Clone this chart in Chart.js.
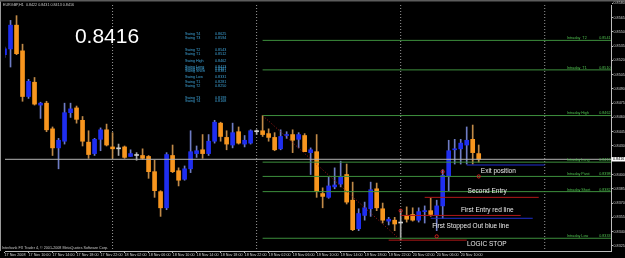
<!DOCTYPE html>
<html>
<head>
<meta charset="utf-8">
<script src="https://cdn.jsdelivr.net/npm/chart.js@4.4.1/dist/chart.umd.min.js"></script>
<style>
  html, body { margin: 0; padding: 0; background: #000; }
</style>
</head>
<body>
<canvas id="chartEurgbp" width="625" height="258"></canvas>
<script>
// EURGBP H1, bars counted in hours from 17 Nov 2008 00:00
var hours = [6,7,8,9,10,11,12,13,14,15,16,17,18,19,20,21,22,23,24,25,26,27,28,29,30,31,32,33,34,35,36,37,38,39,40,41,42,43,44,45,
             46,47,48,49,50,51,52,53,54,55,56,57,58,59,60,61,62,63,64,65,66,67,68,69,70,71,72,73,74,75,76,77,78,79,80,81,82,83,84,85];
var opens = [0.8526,0.8532,0.8557,0.8530,0.8482,0.8497,0.8473,0.8475,0.8448,0.8428,0.8435,0.8465,0.8470,0.8457,0.8434,0.8422,0.8437,0.8447,0.8429,0.8427,
             0.8429,0.8419,0.8420,0.8420,0.8419,0.8403,0.8382,0.8365,0.8420,0.8404,0.8395,0.8406,0.8422,0.8426,0.8422,0.8435,0.8454,0.8439,0.8431,0.8445,
             0.8432,0.8433,0.8445,0.8446,0.8443,0.8439,0.8427,0.8441,0.8442,0.8437,0.8441,0.8423,0.8424,0.8380,0.8376,0.8387,0.8390,0.8400,0.8373,0.8343,
             0.8357,0.8364,0.8385,0.8364,0.8351,0.8352,0.8349,0.8357,0.8358,0.8352,0.8361,0.8362,0.8357,0.8367,0.8398,0.8426,0.8427,0.8431,0.8437,0.8422];
var highs = [0.8534,0.8562,0.8567,0.8537,0.8500,0.8502,0.8476,0.8477,0.8450,0.8438,0.8475,0.8475,0.8472,0.8461,0.8446,0.8438,0.8449,0.8453,0.8444,0.8432,
             0.8430,0.8426,0.8423,0.8427,0.8420,0.8415,0.8383,0.8423,0.8431,0.8407,0.8409,0.8446,0.8430,0.8442,0.8442,0.8457,0.8455,0.8446,0.8454,0.8450,
             0.8441,0.8447,0.8447,0.8462,0.8448,0.8444,0.8447,0.8445,0.8447,0.8444,0.8443,0.8428,0.8442,0.8386,0.8397,0.8407,0.8414,0.8411,0.8392,0.8364,
             0.8371,0.8392,0.8391,0.8370,0.8355,0.8355,0.8362,0.8366,0.8365,0.8365,0.8367,0.8375,0.8373,0.8405,0.8436,0.8437,0.8437,0.8450,0.8452,0.8431];
var lows = [0.8523,0.8513,0.8526,0.8477,0.8480,0.8473,0.8459,0.8445,0.8420,0.8406,0.8432,0.8460,0.8454,0.8430,0.8417,0.8420,0.8425,0.8430,0.8417,0.8420,
            0.8417,0.8419,0.8415,0.8416,0.8396,0.8376,0.8356,0.8363,0.8402,0.8388,0.8394,0.8402,0.8418,0.8417,0.8420,0.8433,0.8435,0.8426,0.8428,0.8432,
            0.8429,0.8432,0.8442,0.8440,0.8435,0.8425,0.8426,0.8438,0.8423,0.8428,0.8424,0.8400,0.8376,0.8365,0.8375,0.8385,0.8387,0.8369,0.8341,0.8341,
            0.8352,0.8356,0.8362,0.8349,0.8347,0.8341,0.8331,0.8350,0.8351,0.8350,0.8349,0.8356,0.8341,0.8354,0.8383,0.8411,0.8411,0.8411,0.8411,0.8413];
var closes = [0.8532,0.8557,0.8527,0.8482,0.8498,0.8474,0.8475,0.8447,0.8428,0.8436,0.8465,0.8469,0.8458,0.8435,0.8421,0.8437,0.8447,0.8431,0.8427,0.8427,
              0.8418,0.8422,0.8420,0.8417,0.8403,0.8383,0.8365,0.8421,0.8403,0.8394,0.8406,0.8424,0.8425,0.8422,0.8435,0.8455,0.8440,0.8432,0.8444,0.8433,
              0.8436,0.8446,0.8445,0.8442,0.8439,0.8426,0.8440,0.8442,0.8436,0.8442,0.8424,0.8426,0.8382,0.8377,0.8388,0.8389,0.8398,0.8371,0.8342,0.8359,
              0.8365,0.8384,0.8365,0.8352,0.8353,0.8348,0.8349,0.8353,0.8352,0.8361,0.8362,0.8358,0.8367,0.8399,0.8425,0.8427,0.8433,0.8436,0.8423,0.8416];

var tickHours = [6,10,14,18,22,26,30,34,38,42,46,50,54,58,62,66,70,74,78,82];
var tickLabels = ['17 Nov 2008','17 Nov 10:00','17 Nov 14:00','17 Nov 18:00','17 Nov 22:00','18 Nov 02:00','18 Nov 06:00','18 Nov 10:00',
                  '18 Nov 14:00','18 Nov 18:00','18 Nov 22:00','19 Nov 02:00','19 Nov 06:00','19 Nov 10:00','19 Nov 14:00','19 Nov 18:00',
                  '19 Nov 22:00','20 Nov 02:00','20 Nov 06:00','20 Nov 10:00'];
var priceTicks = [0.8580,0.8565,0.8550,0.8535,0.8520,0.8505,0.8490,0.8475,0.8460,0.8445,0.8430,0.8415,0.8400,0.8385,0.8370,0.8355,0.8340,0.8325];
var daySeps = [24,48,72,96];
var bid = 0.8416;

// intraday pivot levels (green lines from 19 Nov 01:00)
var levelNames = ['Intraday  T2','Intraday  T1','Intraday High','Intraday Long','Intraday Pivot','Intraday Short','Intraday Low'];
var levelValues = [0.8541,0.8510,0.8462,0.8413,0.8398,0.8382,0.8333];
var levelStart = 49;

// swing levels (text block)
var swingNames = ['Swing T4','Swing T3','Swing T2','Swing T1','Swing High','Swing Long','Swing Pivot','Swing Short','Swing Low','Swing T1','Swing T2','Swing T3','Swing T4'];
var swingValues = ['0.8625','0.8594','0.8543','0.8512','0.8462','0.8413','0.8397','0.8381','0.8331','0.8281','0.8250','0.8199','0.8168'];

// trade lines
var tradeNames = ['Exit position','Second Entry','First Entry red line','First Stopped Out blue line','LOGIC STOP'];
var tradeLevels = [0.8410,0.8376,0.8357,0.8354,0.8331];
var tradeFrom = [83,76,72,77,70];
var tradeTo = [96,95,92,94,83];
var tradeKind = ['blue','red','red','blue','red'];

// swing trend line and arrows
var trendHours = [49,72];
var trendPrices = [0.8462,0.8331];
var markerHours = [72,78,79,85];
var markerPrices = [0.8362,0.8335,0.8403,0.8398];

var xMin = 6.08, xMax = 107.04;
var yMin = 0.83196, yMax = 0.85782;

var bodyColors = [];
var wickColors = [];
for (var i = 0; i < hours.length; i++) {
    if (closes[i] > opens[i]) { bodyColors.push('#1f2ef0'); wickColors.push('#6e7cc4'); }
    else if (closes[i] < opens[i]) { bodyColors.push('#f7951e'); wickColors.push('#c08a48'); }
    else { bodyColors.push('#d0d0d0'); wickColors.push('#a8a8a8'); }
}

var datasets = [];
datasets.push({
    type: 'bar',
    data: hours.map(function(h, i) { return {x: h, y: [opens[i], closes[i]]}; }),
    backgroundColor: bodyColors,
    barThickness: 4,
    minBarLength: 1,
    grouped: false,
    order: 2
});
datasets.push({
    type: 'bar',
    data: hours.map(function(h, i) { return {x: h, y: [lows[i], highs[i]]}; }),
    backgroundColor: wickColors,
    barThickness: 1,
    grouped: false,
    order: 3
});

function hline(x0, x1, y, color, dash, order) {
    return {
        type: 'line',
        data: [{x: x0, y: y}, {x: x1, y: y}],
        borderColor: color,
        borderWidth: 1,
        borderDash: dash || [],
        pointRadius: 0,
        fill: false,
        order: order
    };
}

// period separators
daySeps.forEach(function(h) {
    datasets.push({
        type: 'line',
        data: [{x: h, y: yMax}, {x: h, y: yMin}],
        borderColor: '#9a9a9a',
        borderWidth: 1,
        borderDash: [1, 2],
        pointRadius: 0,
        order: 5
    });
});

levelValues.forEach(function(v) {
    datasets.push(hline(levelStart, xMax, v, '#3d8f3d', null, 1));
});

datasets.push(hline(xMin, xMax, bid, '#b4b4b4', null, 1));

tradeLevels.forEach(function(v, i) {
    datasets.push(hline(tradeFrom[i], tradeTo[i], v, tradeKind[i] == 'red' ? '#b01818' : '#2030d0', null, 1));
});

datasets.push({
    type: 'line',
    data: trendHours.map(function(h, i) { return {x: h, y: trendPrices[i]}; }),
    borderColor: '#a81c1c',
    borderWidth: 1,
    borderDash: [1, 2],
    pointRadius: 0,
    order: 1
});

datasets.push({
    type: 'line',
    data: markerHours.map(function(h, i) { return {x: h, y: markerPrices[i]}; }),
    showLine: false,
    pointStyle: 'circle',
    pointRadius: 1.6,
    pointBorderWidth: 1,
    pointBorderColor: '#d02020',
    pointBackgroundColor: 'rgba(0,0,0,0)',
    order: 0
});

var small = {size: 3.7, family: 'Liberation Sans'};

var mtOverlay = {
    id: 'mtOverlay',
    beforeDraw: function(chart) {
        var c = chart.ctx;
        c.save();
        c.fillStyle = '#000';
        c.fillRect(0, 0, chart.width, chart.height);
        c.fillStyle = '#5c5c5c';
        c.fillRect(0, 0, chart.width, 1.5);
        c.fillStyle = '#9a9a9a';
        c.fillRect(0, 1.5, 1, chart.chartArea.bottom - 1.5);
        c.restore();
    },
    afterDraw: function(chart) {
        var c = chart.ctx;
        var xs = chart.scales.x, ys = chart.scales.y;
        var area = chart.chartArea;
        c.save();

        // header and copyright
        c.font = '3.7px "Liberation Sans"';
        c.fillStyle = '#c8c8c8';
        c.textBaseline = 'middle';
        c.textAlign = 'left';
        c.fillText('EURGBP,H1  ' + opens[opens.length - 1].toFixed(4) + ' ' + highs[highs.length - 1].toFixed(4) + ' ' +
                   lows[lows.length - 1].toFixed(4) + ' ' + closes[closes.length - 1].toFixed(4), 3, 4.5);
        c.fillText('Interbank FX Trader 4, \u00a9 2001-2008 MetaQuotes Software Corp.', 2, 248);

        // big bid label
        c.font = '21px "Liberation Sans"';
        c.fillStyle = '#ffffff';
        c.textAlign = 'center';
        c.textBaseline = 'alphabetic';
        c.fillText(bid.toFixed(4), 107, 43);

        // swing block
        var rows = [34.3, 37.7, 50.3, 53.7, 60.7, 67, 69, 71, 76.7, 82.3, 86.3, 98.3, 101.3];
        c.font = '3.7px "Liberation Sans"';
        c.fillStyle = '#3fa6dc';
        c.textBaseline = 'middle';
        swingNames.forEach(function(n, i) {
            c.textAlign = 'left';
            c.fillText(n, 185, rows[i]);
            c.fillText(swingValues[i], 215, rows[i]);
        });

        // intraday level labels
        c.fillStyle = '#4fc24f';
        c.textBaseline = 'bottom';
        levelNames.forEach(function(n, i) {
            var y = ys.getPixelForValue(levelValues[i]) - 0.3;
            c.textAlign = 'left';
            c.fillText(n, area.right - 44, y);
            c.textAlign = 'right';
            c.fillText(levelValues[i].toFixed(4), area.right - 0.5, y);
        });

        // trade notes
        var notes = [[85.35, 0.8403], [83.15, 0.8382], [82.04, 0.8362], [77.24, 0.8346], [83.04, 0.8327]];
        c.font = '6.5px "Liberation Sans"';
        c.fillStyle = '#ececec';
        c.textAlign = 'left';
        c.textBaseline = 'middle';
        tradeNames.forEach(function(n, i) {
            c.fillText(n, xs.getPixelForValue(notes[i][0]), ys.getPixelForValue(notes[i][1]));
        });

        // bid box on the price scale
        var by = ys.getPixelForValue(bid);
        c.fillStyle = '#ffffff';
        c.fillRect(area.right + 0.5, by - 2.2, 14, 4.4);
        c.fillStyle = '#000000';
        c.font = '3.7px "Liberation Sans"';
        c.textAlign = 'left';
        c.fillText(bid.toFixed(4), area.right + 2, by);
        c.restore();
    }
};

var ctx = document.getElementById('chartEurgbp');
var chartEurgbp = new Chart(ctx, {
    type: 'bar',
    data: {datasets: datasets},
    options: {
        responsive: false,
        animation: false,
        devicePixelRatio: 1,
        layout: {padding: {left: 1, top: 2, right: 0, bottom: 0}},
        plugins: {legend: {display: false}, tooltip: {enabled: false}},
        scales: {
            x: {
                type: 'linear',
                position: 'bottom',
                offset: false,
                min: xMin,
                max: xMax,
                afterBuildTicks: function(s) { s.ticks = tickHours.map(function(v) { return {value: v}; }); },
                afterFit: function(s) { s.height = 7; },
                grid: {drawOnChartArea: false, offset: false, tickLength: 2, color: '#bdbdbd'},
                border: {color: '#bdbdbd'},
                ticks: {
                    autoSkip: false,
                    maxRotation: 0,
                    align: 'start',
                    padding: 0,
                    color: '#d0d0d0',
                    font: small,
                    callback: function(v) {
                        var k = tickHours.indexOf(v);
                        return k >= 0 ? tickLabels[k] : '';
                    }
                }
            },
            y: {
                type: 'linear',
                position: 'right',
                min: yMin,
                max: yMax,
                afterBuildTicks: function(s) { s.ticks = priceTicks.map(function(v) { return {value: v}; }); },
                afterFit: function(s) { s.width = 14; },
                grid: {drawOnChartArea: false, tickLength: 2, color: '#bdbdbd'},
                border: {color: '#bdbdbd'},
                ticks: {
                    autoSkip: false,
                    padding: 0.5,
                    color: '#d0d0d0',
                    font: small,
                    callback: function(v) { return v.toFixed(4); }
                }
            }
        }
    },
    plugins: [mtOverlay]
});
</script>
</body>
</html>
